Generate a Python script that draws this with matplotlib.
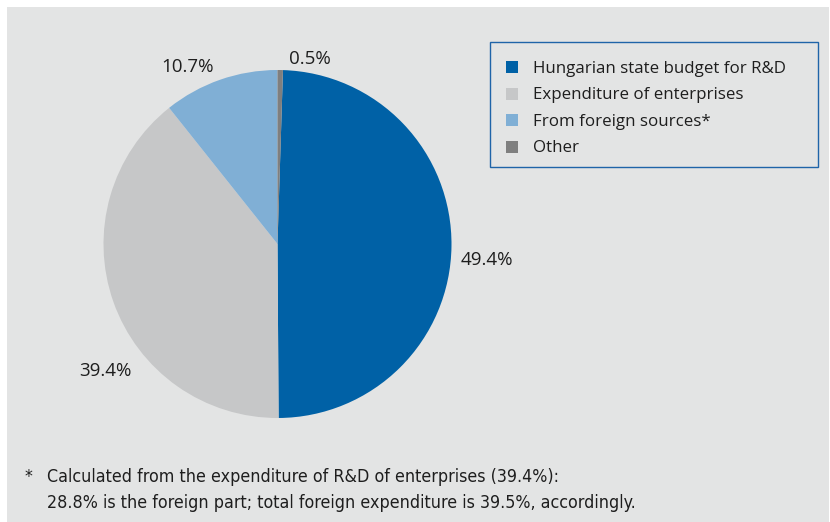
import matplotlib
matplotlib.use("Agg")
import matplotlib.pyplot as plt
from matplotlib.patches import Rectangle

# ---- data ----
categories = ["Hungarian state budget for R&D", "Expenditure of enterprises",
              "From foreign sources*", "Other"]
shares = [49.4, 39.4, 10.7, 0.5]
pct_labels = ["49.4%", "39.4%", "10.7%", "0.5%"]
footnote_lines = ["Calculated from the expenditure of R&D of enterprises (39.4%):",
                  "28.8% is the foreign part; total foreign expenditure is 39.5%, accordingly."]

# ---- styles / positions ----
colors = ["#0061a6", "#c6c7c8", "#80afd5", "#7f7f7f"]
label_pos = [(1.201, -0.121), (-0.989, -0.759), (-0.518, 0.990), (0.187, 1.036)]
text_color = "#1e1e1e"
panel_color = "#e3e4e4"
plt.rcParams['font.family'] = ['Open Sans', 'DejaVu Sans']

W, H = 830, 522
fig = plt.figure(figsize=(W / 100, H / 100), dpi=100, facecolor="white")


def fx(px):
    return px / W


def fy(py):
    return 1 - py / H


# panel background
fig.patches.append(Rectangle((fx(7), 0), (829 - 7) / W, (H - 7) / H,
                             transform=fig.transFigure, facecolor=panel_color,
                             edgecolor="none", zorder=-10))

cx, cy, r = 277.5, 244, 174
ax = fig.add_axes([(cx - r) / W, (H - cy - r) / H, 2 * r / W, 2 * r / H])
ax.set_zorder(5)
ax.set_facecolor("none")
start = 90 - shares[-1] * 3.6
wedges, _ = ax.pie(shares, colors=colors, startangle=start, counterclock=False,
                   radius=1, wedgeprops=dict(linewidth=0))
ax.set_xlim(-1, 1)
ax.set_ylim(-1, 1)
ax.set_aspect("equal")
for lab, (x, y) in zip(pct_labels, label_pos):
    ax.text(x, y, lab, ha="center", va="baseline", fontsize=13.5, color=text_color,
            clip_on=False)

# legend (drawn as box + swatches + labels)
box_l, box_t, box_r, box_b = 490, 42.3, 817.5, 167
fig.patches.append(Rectangle((fx(box_l), fy(box_b)), (box_r - box_l) / W,
                             (box_b - box_t) / H, transform=fig.transFigure,
                             facecolor="none", edgecolor="#1f64a8", linewidth=1.0,
                             zorder=6))
row0, row_step, sw = 67.3, 26.5, 11.7
for i, (name, c) in enumerate(zip(categories, colors)):
    yc = row0 + i * row_step
    fig.patches.append(Rectangle((fx(506), fy(yc + sw / 2)), sw / W, sw / H,
                                 transform=fig.transFigure, facecolor=c,
                                 edgecolor="none", zorder=6))
    fig.text(fx(533), fy(yc + 5.5), name, fontsize=12.2, color=text_color,
             va="baseline", ha="left")

# footnote
fig.text(fx(25), fy(482), "*", fontsize=12.5, color=text_color, va="baseline",
         family="DejaVu Sans", fontstretch="condensed")
for i, line in enumerate(footnote_lines):
    fig.text(fx(47), fy(482 + 26 * i), line, fontsize=12.8, color=text_color,
             va="baseline", family="DejaVu Sans", fontstretch="condensed")

fig.savefig("out.png", dpi=100, facecolor="white")
